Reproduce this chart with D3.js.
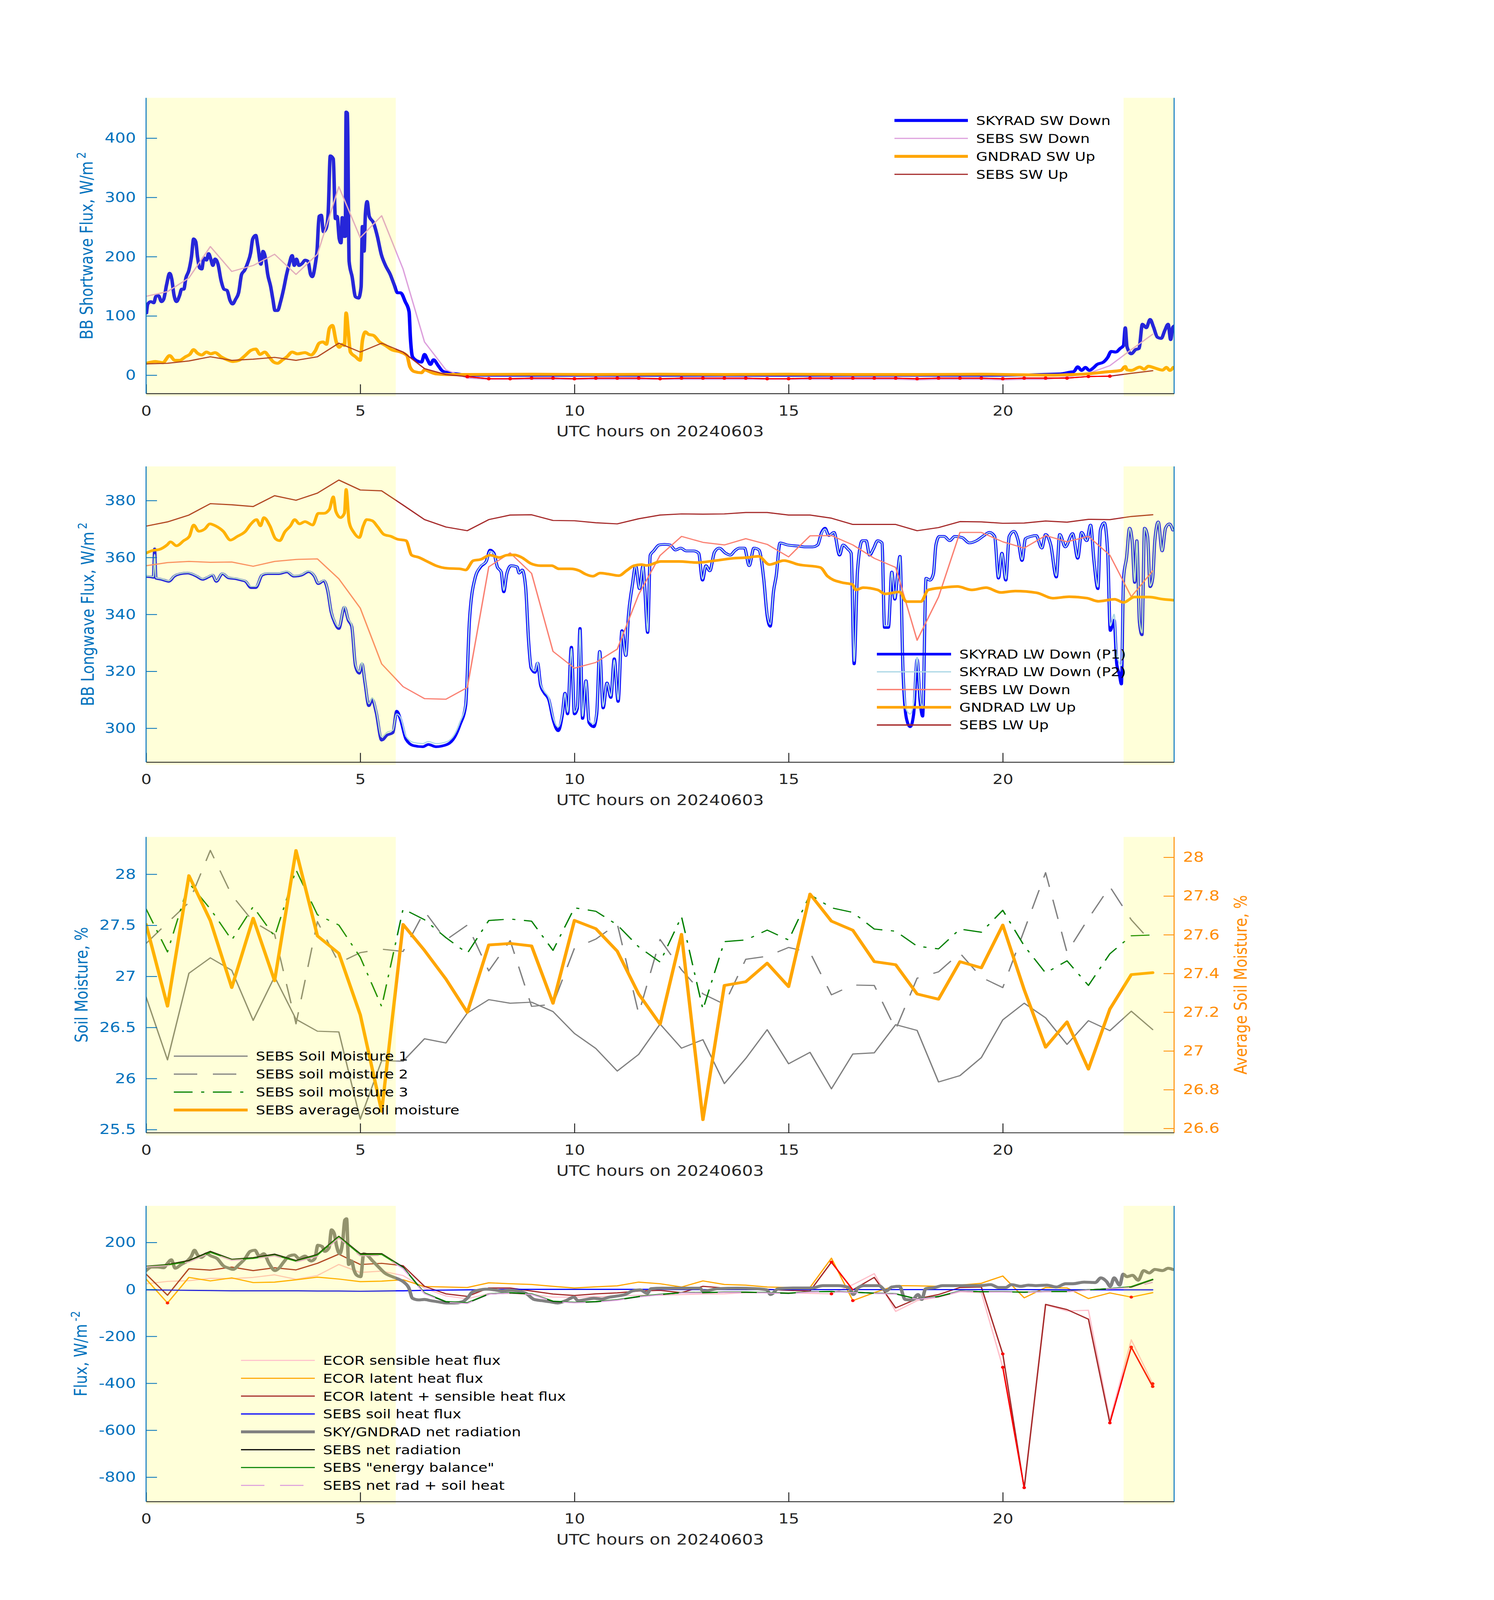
<!DOCTYPE html>
<html>
<head>
<meta charset="utf-8">
<script src="https://cdn.jsdelivr.net/npm/d3@7"></script>
<style>
  html, body { margin: 0; padding: 0; background: #fff; overflow: hidden; }
  #chart svg { display: block; }
  text { font-family: 'DejaVu Sans', sans-serif; }
</style>
</head>
<body>
<div id="chart"></div>
<script>
// ---------- data ----------
const halfHour = [0,0.5,1,1.5,2,2.5,3,3.5,4,4.5,5,5.5,6,6.5,7,7.5,8,8.5,9,9.5,10,10.5,11,11.5,
  12,12.5,13,13.5,14,14.5,15,15.5,16,16.5,17,17.5,18,18.5,19,19.5,20,20.5,21,21.5,22,22.5,23,23.5];
const xTicks = [0, 5, 10, 15, 20];
const shadeStart = [0, 22.82];
const shadeEnd = [5.83, 24];

// panel 1 : shortwave
const skyradSwTime = [0.01,0.04,0.11,0.18,0.23,0.29,0.36,0.41,0.48,0.55,0.60,0.65,0.71,0.78,0.83,0.88,0.93,1.00,1.06,1.11,1.16,1.20,1.25,1.30,1.35,1.41,1.46,1.51,1.56,1.61,1.68,1.75,1.82,1.89,1.96,2.02,2.09,2.16,2.23,2.30,2.37,2.44,2.49,2.56,2.61,2.68,2.73,2.79,2.84,2.91,2.96,3.01,3.07,3.14,3.21,3.28,3.34,3.41,3.46,3.51,3.57,3.65,3.71,3.78,3.84,3.88,3.95,3.99,4.04,4.09,4.14,4.20,4.25,4.30,4.37,4.42,4.46,4.51,4.55,4.58,4.62,4.65,4.67,4.70,4.74,4.81,4.89,4.96,5.02,5.05,5.09,5.12,5.16,5.21,5.31,5.40,5.49,5.59,5.70,5.79,5.87,5.94,6.05,6.14,6.17,6.22,6.33,6.43,6.50,6.57,6.64,6.71,6.82,6.92,7.06,7.27,7.5,10,15,20,21.34,21.57,21.66,21.75,21.84,21.93,22.02,22.11,22.2,22.35,22.45,22.53,22.64,22.74,22.82,22.86,22.90,23.00,23.10,23.18,23.26,23.35,23.44,23.52,23.61,23.70,23.78,23.86,23.92,23.97,24.0];
const skyradSwDown = [105,120,124,122,133,134,124,128,153,172,162,136,124,134,145,145,164,177,200,230,225,200,181,179,198,194,205,196,185,196,187,160,145,143,126,120,128,139,170,177,189,206,230,236,217,187,209,196,170,149,128,109,109,124,145,170,187,202,185,196,185,189,194,192,170,166,187,209,268,270,242,247,272,370,365,264,268,230,223,266,234,234,444,442,192,166,132,130,149,251,209,272,293,268,257,234,204,185,170,153,139,139,124,107,64,31,24,22,35,26,18,26,16,7,4,2,0,0,0,0,2,5,6,14,8,13,8,12,18,22,30,40,39,45,50,80,48,36,43,45,86,80,94,81,64,62,75,86,60,81,83];
const sebsSwDown = [133,141,164,217,175,185,204,170,204,318,232,269,179,56,9,-5,-7,-7,-7,-7,-7,-7,-7,-7,
  -7,-7,-7,-7,-7,-7,-7,-7,-7,-7,-7,-7,-8,-7,-7,-7,-8,-7,-7,-3,3,16,43,69];
const gndradSwTime = [0.01,0.22,0.39,0.55,0.67,0.78,0.92,1.02,1.11,1.20,1.30,1.41,1.51,1.61,1.75,1.89,2.03,2.17,2.31,2.45,2.56,2.66,2.77,2.87,2.98,3.07,3.19,3.29,3.41,3.53,3.71,3.85,3.95,4.04,4.13,4.21,4.28,4.35,4.44,4.51,4.58,4.63,4.67,4.72,4.77,4.89,5.0,5.05,5.12,5.19,5.31,5.45,5.59,5.73,5.94,6.09,6.16,6.26,6.43,6.50,6.64,6.78,7.06,7.5,9,10.5,12,13.5,15,16.5,18,19.5,21.2,21.5,21.96,22.42,22.76,22.86,22.9,23.0,23.2,23.3,23.4,23.55,23.73,23.82,23.9,23.98];
const gndradSwUp = [20,23,21,33,25,25,31,35,43,37,34,39,36,38,31,26,23,25,33,42,44,35,39,31,22,20,26,31,39,36,38,34,41,54,56,52,79,84,56,47,52,50,105,73,39,31,25,58,73,69,67,56,50,43,39,33,14,6,4,9,5,2,1,1,1.5,1,1.5,1,1.5,1,1,1.5,0,0.7,2,5.5,8,14.6,9,8,13.6,10,15,12,8.5,13,8,13];
const sebsSwUp = [19,20,24,31,25,27,30,25,31,54,39,54,39,11,1,-2.5,-6,-6,-5,-5,-6,-5,-5,-5,
  -6,-5,-5,-5,-5,-6,-6,-5,-5,-5,-5,-5,-6,-5,-5,-5,-6,-5,-5,-5,-2.3,-1.7,3,7.5];
const swFlagRange = [7.5, 22.5];

// panel 2 : longwave
const lwTime = [0,0.14,0.17,0.20,0.23,0.36,0.53,0.66,0.79,0.97,1.18,1.32,1.45,1.55,1.64,1.78,1.93,2.10,2.23,2.32,2.45,2.56,2.71,2.84,3.10,3.29,3.45,3.63,3.79,3.93,4.02,4.15,4.24,4.32,4.41,4.50,4.63,4.72,4.80,4.89,4.98,5.04,5.11,5.20,5.28,5.37,5.50,5.63,5.76,5.85,5.94,6.07,6.24,6.46,6.59,6.77,7.03,7.20,7.33,7.46,7.55,7.68,7.81,7.94,8.03,8.12,8.20,8.29,8.35,8.42,8.52,8.66,8.71,8.78,8.86,8.93,8.99,9.08,9.14,9.21,9.30,9.40,9.51,9.62,9.72,9.78,9.84,9.93,10.0,10.07,10.13,10.19,10.27,10.34,10.45,10.52,10.59,10.67,10.76,10.85,10.93,11.02,11.11,11.20,11.26,11.35,11.43,11.52,11.60,11.64,11.71,11.77,11.85,11.98,12.10,12.23,12.36,12.48,12.61,12.78,12.90,12.99,13.07,13.16,13.27,13.38,13.53,13.64,13.74,13.85,13.97,14.08,14.19,14.31,14.42,14.50,14.57,14.65,14.71,14.80,14.97,15.22,15.39,15.56,15.68,15.77,15.85,15.94,16.06,16.19,16.27,16.38,16.46,16.53,16.61,16.72,16.81,16.89,16.98,17.08,17.18,17.24,17.33,17.41,17.48,17.54,17.60,17.67,17.75,17.84,17.92,18.0,18.07,18.13,18.21,18.30,18.38,18.44,18.52,18.63,18.76,18.88,19.05,19.22,19.39,19.56,19.69,19.81,19.90,19.98,20.07,20.15,20.26,20.36,20.45,20.53,20.66,20.78,20.91,21.00,21.12,21.25,21.33,21.46,21.63,21.75,21.84,21.96,22.05,22.13,22.22,22.28,22.37,22.45,22.51,22.60,22.66,22.72,22.77,22.82,22.89,22.96,23.02,23.08,23.13,23.19,23.25,23.31,23.38,23.44,23.50,23.55,23.63,23.72,23.80,23.89,23.97];
const skyradLwP1 = [353.3,353.1,353.0,363.0,352.7,352.3,351.6,353.4,354.2,354.5,353.4,352.3,353.1,353.8,351.6,354.3,352.8,352.5,352.0,351.6,349.4,349.4,353.8,354.3,354.3,354.9,353.4,353.8,355.0,353.4,350.8,351.8,348.3,340.9,336.9,335.0,342.5,338.0,335.8,321.8,319.3,322.6,316.0,307.9,310.1,305.7,295.8,297.6,298.4,306.0,303.1,296.1,293.9,293.5,294.3,293.5,294.3,296.8,301.3,307.9,338.0,352.7,356.7,358.6,362.6,361.5,356.7,354.9,347.9,354.2,357.1,356.7,354.5,355.6,349.7,330.6,321.1,319.6,322.9,315.2,312.3,310.1,302.7,299.1,305.0,312.3,305.0,328.5,305.0,307.1,335.1,303.4,316.7,302.0,300.5,305.0,327.0,307.1,315.9,310.8,324.4,309.4,334.3,325.5,339.4,350.0,357.0,349.0,357.0,349.7,333.6,360.8,362.3,364.4,364.6,364.4,362.6,363.3,362.3,362.3,361.5,352.0,357.1,355.3,361.9,363.3,361.5,360.8,362.3,363.3,363.3,357.1,363.3,362.6,352.3,339.5,335.8,348.3,353.4,365.1,364.4,364.0,363.7,363.7,364.4,368.8,370.3,367.7,368.8,360.8,364.4,363.0,361.5,322.6,355.6,365.9,365.9,360.8,363.0,365.9,365.1,335.4,335.4,354.9,345.3,353.4,360.4,320.4,303.5,300.5,305.0,324.1,309.4,304.2,352.7,352.0,354.2,364.4,367.4,367.4,365.9,367.4,367.0,365.1,365.9,367.7,368.8,367.4,352.7,361.5,352.0,367.4,369.2,365.9,358.9,366.6,367.4,367.7,363.3,368.1,364.4,353.1,368.1,363.7,368.4,359.7,368.8,365.9,371.4,358.6,349.0,369.6,372.2,361.5,334.3,338.0,322.6,319.0,315.5,352.7,360.0,370.3,365.9,351.2,365.9,337.3,332.8,370.3,367.4,349.7,352.7,365.9,372.5,362.3,370.3,371.8,369.6];
const skyradLwP2 = [353.5,353.3,353.2,361.0,352.9,352.5,351.8,353.6,354.4,354.7,353.6,352.5,353.3,354.0,351.8,354.5,353.0,352.7,352.2,351.8,349.8,349.8,354.0,354.5,354.5,355.1,353.6,354.0,355.2,353.6,351.0,352.0,348.6,341.3,337.4,335.6,342.8,338.4,336.3,322.4,319.9,323.1,316.6,308.6,310.7,306.4,296.9,298.6,299.3,305.0,303.8,297.1,295.0,294.6,295.3,294.6,295.3,297.8,302.2,308.6,338.0,352.7,356.9,358.6,362.2,361.3,356.7,354.9,348.4,354.2,357.1,356.7,354.5,355.6,349.7,330.8,321.5,320.1,323.2,315.7,312.9,310.7,303.5,300.4,305.6,312.3,305.6,328.0,305.6,307.6,334.6,304.2,316.7,302.8,301.5,305.6,327.0,307.6,315.9,311.3,324.0,310.0,334.0,325.5,339.4,350.0,357.0,349.0,357.0,349.7,334.0,360.8,362.3,364.4,364.6,364.4,362.6,363.3,362.3,362.3,361.5,352.4,357.1,355.3,361.9,363.3,361.5,360.8,362.3,363.3,363.3,357.1,363.3,362.6,352.5,340.0,336.5,348.3,353.4,365.1,364.4,364.0,363.7,363.7,364.4,368.5,370.0,367.7,368.8,361.0,364.4,363.0,361.5,323.5,355.6,365.9,365.9,361.0,363.0,365.9,365.1,336.0,336.0,354.9,345.6,353.4,360.4,321.5,306.5,305.0,309.0,325.0,311.0,307.0,352.7,352.0,354.2,364.4,367.4,367.4,365.9,367.4,367.0,365.1,365.9,367.7,368.8,367.4,353.0,361.5,352.4,367.4,369.2,365.9,359.2,366.6,367.4,367.7,363.3,368.1,364.4,353.5,368.1,363.7,368.4,360.0,368.8,365.9,371.4,358.9,349.6,369.6,372.2,361.5,336.0,340.0,326.0,323.0,322.0,352.7,360.0,370.3,365.9,351.6,365.9,338.0,333.5,370.3,367.4,350.0,352.7,365.9,372.5,362.3,370.3,371.8,369.6];
const sebsLwDown = [357.1,358.2,358.6,358.3,358.4,356.9,358.6,359.3,359.5,352.5,342.2,322.6,314.6,310.4,310.2,314.3,
  356.7,361.6,354.4,327.0,321.1,323.1,327.8,347.0,360.7,367.4,365.3,364.4,366.6,364.6,360.2,367.6,
  367.7,364.4,359.7,356.5,330.9,346.1,368.8,368.8,365.5,363.3,367.7,365.5,367.4,360.8,346.2,355.3];
const gndradLwTime = [0,0.14,0.31,0.49,0.57,0.71,0.88,1.01,1.11,1.23,1.37,1.49,1.62,1.80,1.97,2.13,2.32,2.45,2.58,2.67,2.75,2.89,3.02,3.12,3.24,3.37,3.47,3.58,3.71,3.89,4.02,4.15,4.28,4.37,4.43,4.54,4.63,4.67,4.74,4.85,4.98,5.07,5.15,5.28,5.41,5.55,5.72,5.85,6.07,6.20,6.37,6.55,6.77,7.03,7.33,7.46,7.64,7.81,8.03,8.25,8.42,8.60,8.77,8.99,9.21,9.47,9.64,9.90,10.12,10.25,10.43,10.60,10.78,11.04,11.21,11.39,11.56,11.69,12.02,12.44,12.87,13.29,13.71,14.05,14.30,14.55,14.89,15.23,15.74,15.91,16.24,16.49,16.57,16.74,17.08,17.25,17.59,17.75,18.09,18.26,18.6,18.94,19.28,19.61,19.95,20.29,20.79,21.17,21.55,21.97,22.23,22.61,22.82,23.07,23.41,23.75,23.98];
const gndradLwUp = [361.5,362.4,362.8,364.4,365.5,364.1,365.9,367.4,371.4,369.2,370.0,371.8,371.1,369.2,366.1,367.4,369.2,371.8,373.3,371.1,374.0,371.1,366.6,365.9,369.0,371.1,373.3,371.8,372.6,371.4,375.5,375.5,376.9,381.3,376.2,374.0,375.5,383.9,372.5,368.8,367.0,371.1,373.3,372.9,370.7,368.1,367.4,366.5,365.9,360.8,360.0,358.7,357.1,356.2,356.0,355.6,358.9,359.3,360.8,360.0,360.8,360.9,360.0,357.8,357.1,357.1,356.0,356.0,355.3,354.2,353.4,354.5,354.2,353.6,355.3,357.1,357.5,357.2,358.6,358.6,358.2,358.9,359.7,360.0,360.4,357.5,358.9,357.5,356.5,353.4,351.2,350.5,348.6,349.4,348.6,347.2,347.9,344.5,344.5,348.6,349.4,349.8,348.6,349.4,347.7,348.2,347.6,345.7,346.2,345.7,344.6,345.3,344.2,346.1,346.1,345.3,345.0];
const sebsLwUp = [371.0,372.5,374.9,378.9,378.5,377.9,381.7,380.1,382.6,387.2,383.7,383.4,378.4,373.3,370.7,369.4,
  373.3,374.9,375.0,373.0,372.9,372.2,371.8,373.6,374.9,375.3,375.2,375.3,375.8,375.8,374.9,374.9,
  373.8,371.6,371.6,371.6,369.4,370.5,372.6,372.5,372.0,372.1,372.8,372.4,373.4,373.3,374.4,375.0];

// panel 3 : soil moisture
const soilMoisture1 = [26.798,26.182,27.030,27.181,27.059,26.569,26.996,26.580,26.463,26.456,25.602,26.175,26.169,26.389,26.348,26.641,
  26.772,26.737,26.747,26.655,26.441,26.294,26.073,26.236,26.533,26.297,26.380,25.950,26.196,26.478,26.144,26.256,
  25.899,26.240,26.251,26.527,26.471,25.966,26.028,26.205,26.574,26.737,26.594,26.334,26.566,26.468,26.659,26.479];
const soilMoisture2 = [27.322,27.525,27.723,28.233,27.795,27.536,27.412,26.535,27.536,27.131,27.232,27.266,27.244,27.637,27.356,27.502,
  27.053,27.350,26.706,26.727,27.275,27.365,27.514,26.635,27.361,27.064,26.829,26.727,27.167,27.197,27.283,27.234,
  26.819,26.915,26.911,26.481,26.982,27.044,27.228,26.990,26.890,27.450,28.015,27.234,27.567,27.878,27.554,27.322];
const soilMoisture3 = [27.660,27.239,27.914,27.660,27.356,27.682,27.390,28.042,27.603,27.502,27.187,26.704,27.660,27.554,27.379,27.226,
  27.547,27.561,27.540,27.254,27.671,27.637,27.504,27.289,27.140,27.585,26.676,27.340,27.356,27.453,27.356,27.800,
  27.671,27.626,27.463,27.442,27.295,27.269,27.463,27.432,27.647,27.299,27.033,27.152,26.911,27.221,27.397,27.405];
const soilMoistureAvg = [27.653,27.231,27.905,27.673,27.327,27.685,27.362,28.035,27.594,27.504,27.187,26.688,27.653,27.519,27.371,27.199,
  27.547,27.555,27.542,27.246,27.674,27.631,27.515,27.294,27.138,27.602,26.645,27.338,27.357,27.453,27.332,27.810,
  27.670,27.623,27.461,27.445,27.294,27.267,27.461,27.429,27.650,27.316,27.019,27.150,26.906,27.216,27.394,27.404];
const soilLeftTicks = [25.5, 26, 26.5, 27, 27.5, 28];
const soilRightTicks = [26.6, 26.8, 27, 27.2, 27.4, 27.6, 27.8, 28];

// panel 4 : surface energy fluxes
const ecorSensible = [23.6,34,37,47,46,51,62,43,59,106,72,78,59,5,-28,-40,
  -18,-17,-22,-33,-33,-31,-28,-25,-25,-22,-20,-19,-14,-14,-14,-17,
  -19,20,67,-94,-48,-33,-10,-14,-332,-845,-66,-92,-89,-556,-215,-402];
const ecorLatent = [44,-58,51,36,49,29,31,41,52,44,33,35,41,12,10,8,
  28,24,21,13,6,11,15,31,24,10,36,21,18,10,8,8,
  133,-48,-14,16,15,13,18,26,57,-36,8,6,-39,-15,-33,-14];
const ecorSum = [65,-25,88,82,95,80,92,83,111,150,106,111,101,13,-19,-30,
  6,6,-7,-20,-26,-19,-15,-7,-4,-14,13,6,0,0,-4,-7,
  116,-2,51,-79,-40,-22,8,10,-275,-848,-64,-86,-127,-569,-246,-414];
const sebsSoilHeat = [-2,-3,-4,-5,-6,-6,-6,-6,-7,-7,-8,-7,-6,-4,-3,-2,
  -1,0,0,0,0,0,0,0,0,-1,-1,-1,-1,-1,-1,-1,
  -1,-1,-1,-1,-1,-1,-1,-1,-1,-1,-1.5,-2,-2,-2,-2,-2];
const netRadTime = [0.0,0.13,0.27,0.41,0.5,0.59,0.68,0.82,0.96,1.06,1.13,1.2,1.29,1.41,1.52,1.66,1.8,1.94,2.03,2.17,2.31,2.43,2.54,2.64,2.75,2.87,3.01,3.1,3.21,3.34,3.46,3.57,3.71,3.85,3.94,4.01,4.11,4.17,4.27,4.33,4.39,4.45,4.52,4.59,4.64,4.68,4.73,4.8,4.85,4.92,5.01,5.08,5.15,5.29,5.43,5.57,5.75,5.89,6.03,6.13,6.22,6.36,6.5,6.64,6.82,7.01,7.2,7.38,7.52,7.61,7.75,7.94,8.13,8.31,8.5,8.68,8.87,9.06,9.24,9.43,9.61,9.8,9.99,10.08,10.27,10.45,10.64,10.82,11.01,11.18,11.35,11.53,11.7,11.79,12.05,12.48,12.92,13.01,13.36,13.8,14.23,14.49,14.58,14.76,15.1,15.54,15.8,16.15,16.41,16.51,16.63,16.76,17.11,17.28,17.41,17.59,17.72,17.89,18.02,18.11,18.2,18.42,18.59,19.03,19.46,19.72,19.9,20.07,20.2,20.42,20.6,20.77,21.03,21.25,21.47,21.64,21.9,22.16,22.29,22.42,22.51,22.6,22.73,22.81,22.9,23.03,23.16,23.29,23.42,23.55,23.73,23.86,23.97];
const skyGndNetRad = [80,95,95,92,111,126,90,106,121,142,167,147,136,152,142,131,101,90,85,106,131,162,167,142,152,111,80,90,116,142,147,131,142,121,131,188,183,162,177,254,239,183,152,203,295,301,106,121,85,60,54,152,147,121,95,70,54,44,29,8,-38,-45,-43,-48,-53,-58,-58,-53,-33,-12,-4,1,-2,-7,-4,-7,-17,-43,-48,-53,-58,-48,-33,-48,-43,-38,-41,-33,-28,-22,-7,-2,-17,3,5,5,5,-7,3,5,3,-2,-22,3,6,6,16,16,8,-22,8,16,16,-7,10,13,-43,-45,-22,-43,3,8,16,16,16,20,8,8,20,13,18,16,18,10,24,24,31,29,49,34,13,49,18,65,54,60,39,80,70,85,80,90,85];
const sebsNetRad = [98.5,106,123,162,128,135,150,123,149,226,152,152,95,-17,-53,-58,
  -20,-15,-20,-51,-56,-53,-45,-31,-22,-14,-14,-12,-12,-14,-17,-10,
  -9,-12,-16,-19,-41,-31,-7,-10,-10,-12,-9,-9,-2,3,10,41];
const sebsEnergyBalance = [97,104,118,158,126,132,146,120,146,224,148,149,93,-15,-52,-57,
  -19,-14,-19,-50,-55,-52,-44,-30,-21,-14,-13,-12,-12,-13,-16,-10,
  -9,-12,-16,-19,-41,-30,-7,-10,-10,-12,-9,-9,-2,3,12,43];
const sebsNetPlusSoil = [96,101,117,155,124,130,143,117,141,219,143,145,89,-18,-55,-60,
  -20,-16,-21,-52,-57,-54,-46,-32,-23,-15,-15,-13,-13,-15,-18,-11,
  -10,-13,-17,-20,-42,-32,-8,-11,-11,-13,-10,-10,-3,2,8,30];
const ecorFlagTime = [16,16.5,null,20,20.5,null,22.5,23,23.5];
const ecorFlagValue = [116,-2,null,-332,-845,null,-569,-246,-414];
const ecorFlagDotTime = [0.5,16,16,16.5,20,20,20.5,22.5,23,23,23.5,23.5];
const ecorFlagDotValue = [-58,116,-19,-48,-275,-332,-845,-569,-246,-33,-402,-414];

// ---------- layout ----------
// the drawing is laid out in the reference's 3825 x 4875 frame and stretched to the window
const width = 3825, height = 4875;
const plotLeft = 374, plotRight = 3006, plotHeight = 901;
const panelTop = [298, 1421, 2550, 3674];
const fontFamily = "'DejaVu Sans', sans-serif";
const axisBlue = '#0072BD', axisGray = '#262626', axisOrange = '#FF8C00';

const svg = d3.select('#chart')
  .append('svg')
  .attr('width', window.innerWidth || width)
  .attr('height', window.innerHeight || height)
  .attr('viewBox', '0 0 ' + width + ' ' + height)
  .attr('preserveAspectRatio', 'none')
  .style('background-color', '#fff');

const x = d3.scaleLinear().domain([0, 24]).range([plotLeft, plotRight]);

function zip(ts, vs) {
  return ts.map((t, i) => [t, vs[i]]);
}

function drawSeries(g, y, pts, color, lw, dash, curve) {
  const line = d3.line()
    .defined(d => d[0] != null && d[1] != null)
    .x(d => x(d[0]))
    .y(d => y(d[1]))
    .curve(curve || d3.curveLinear);
  g.append('path')
    .datum(pts)
    .attr('d', line)
    .attr('fill', 'none')
    .attr('stroke', color)
    .attr('stroke-width', lw)
    .attr('stroke-linejoin', 'round')
    .attr('stroke-linecap', dash ? 'butt' : 'round')
    .attr('stroke-dasharray', dash || null);
}

function drawDots(g, y, pts, color, r) {
  g.selectAll(null)
    .data(pts)
    .enter()
    .append('circle')
    .attr('cx', d => x(d[0]))
    .attr('cy', d => y(d[1]))
    .attr('r', r)
    .attr('fill', color);
}

function makePanel(i, yDomain) {
  const top = panelTop[i], bottom = top + plotHeight;
  const y = d3.scaleLinear().domain(yDomain).range([bottom, top]);
  const g = svg.append('g');
  const clip = 'clip' + i;
  svg.append('clipPath').attr('id', clip)
    .append('rect').attr('x', plotLeft).attr('y', top)
    .attr('width', plotRight - plotLeft).attr('height', plotHeight);
  const lines = g.append('g').attr('clip-path', 'url(#' + clip + ')');
  return { g, lines, y, top, bottom };
}

function shade(p) {
  p.g.selectAll(null)
    .data(shadeStart.map((s, k) => [s, shadeEnd[k]]))
    .enter()
    .append('rect')
    .attr('x', d => x(d[0]))
    .attr('width', d => x(d[1]) - x(d[0]))
    .attr('y', p.top)
    .attr('height', plotHeight + 8)
    .attr('fill', '#FFFF00')
    .attr('fill-opacity', 0.15);
}

function styleAxis(ag, color) {
  ag.attr('font-size', 42).attr('font-family', fontFamily);
  ag.selectAll('text').attr('fill', color);
  ag.selectAll('line').attr('stroke', color).attr('stroke-width', 2.5);
  ag.select('.domain').attr('stroke', color).attr('stroke-width', 2.5);
}

function axes(p, yTicks, opts) {
  // x axis
  const xa = p.g.append('g')
    .attr('transform', 'translate(0,' + p.bottom + ')')
    .call(d3.axisBottom(x).tickValues(xTicks).tickSize(-28).tickSizeOuter(0).tickPadding(37).tickFormat(d3.format('d')));
  styleAxis(xa, axisGray);
  // y axis
  const ya = p.g.append('g')
    .attr('transform', 'translate(' + plotLeft + ',0)')
    .call(d3.axisLeft(p.y).tickValues(yTicks).tickSize(-28).tickSizeOuter(0).tickPadding(26)
      .tickFormat(d => String(d)));
  styleAxis(ya, axisBlue);
  ya.select('.domain').attr('d', 'M0,' + p.top + 'V' + p.bottom);
  if (!opts || !opts.noRightLine) {
    p.g.append('line')
      .attr('x1', plotRight).attr('x2', plotRight)
      .attr('y1', p.top).attr('y2', p.bottom)
      .attr('stroke', axisBlue).attr('stroke-width', 2.5);
  }
  // x label
  p.g.append('text')
    .attr('x', (plotLeft + plotRight) / 2)
    .attr('y', p.bottom + 131)
    .attr('text-anchor', 'middle')
    .attr('font-size', 44)
    .attr('fill', axisGray)
    .text('UTC hours on 20240603');
}

function yLabel(p, bx, main, sup, color) {
  const t = p.g.append('text')
    .attr('transform', 'translate(' + bx + ',' + (p.top + p.bottom) / 2 + ') rotate(-90)')
    .attr('text-anchor', 'middle')
    .attr('font-size', 44)
    .attr('fill', color);
  t.append('tspan').text(main);
  if (sup) {
    t.append('tspan').attr('dx', 8).attr('dy', -18).attr('font-size', 32).text(sup);
  }
}

function legend(p, x1, x2, y0, dy, items) {
  const lg = p.g.append('g');
  items.forEach((it, k) => {
    const yy = y0 + k * dy;
    lg.append('line')
      .attr('x1', x1).attr('x2', x2).attr('y1', yy).attr('y2', yy)
      .attr('stroke', it.color)
      .attr('stroke-width', it.lw)
      .attr('stroke-dasharray', it.dash || null);
    lg.append('text')
      .attr('x', x2 + 21)
      .attr('y', yy)
      .attr('dy', '0.36em')
      .attr('font-size', 38)
      .attr('fill', '#000')
      .text(it.label);
  });
}

// ---------- panel 1 ----------
const p1 = makePanel(0, [-31, 468]);
drawSeries(p1.lines, p1.y, zip(skyradSwTime, skyradSwDown), '#0000FF', 9, null, d3.curveMonotoneX);
drawSeries(p1.lines, p1.y, zip(halfHour, sebsSwDown), '#DDA0DD', 3.5);
drawSeries(p1.lines, p1.y, zip(gndradSwTime, gndradSwUp), '#FFA500', 9, null, d3.curveMonotoneX);
drawSeries(p1.lines, p1.y, zip(halfHour, sebsSwUp), '#A52A2A', 3.5);
const swFlag = zip(halfHour, sebsSwUp).filter(d => d[0] >= swFlagRange[0] && d[0] <= swFlagRange[1]);
drawSeries(p1.lines, p1.y, swFlag, '#FF0000', 3.5);
drawDots(p1.lines, p1.y, swFlag, '#FF0000', 5);
shade(p1);
axes(p1, [0, 100, 200, 300, 400]);
yLabel(p1, 237, 'BB Shortwave Flux, W/m', '2', axisBlue);
legend(p1, 2290, 2478, 367, 54.7, [
  { label: 'SKYRAD SW Down', color: '#0000FF', lw: 9 },
  { label: 'SEBS SW Down', color: '#DDA0DD', lw: 3.5 },
  { label: 'GNDRAD SW Up', color: '#FFA500', lw: 9 },
  { label: 'SEBS SW Up', color: '#A52A2A', lw: 3.5 }
]);

// ---------- panel 2 ----------
const p2 = makePanel(1, [288.1, 392]);
drawSeries(p2.lines, p2.y, zip(lwTime, skyradLwP1), '#0000FF', 8, null, d3.curveMonotoneX);
drawSeries(p2.lines, p2.y, zip(lwTime, skyradLwP2), '#ADD8E6', 3.5, null, d3.curveMonotoneX);
drawSeries(p2.lines, p2.y, zip(halfHour, sebsLwDown), '#FA8072', 3.5);
drawSeries(p2.lines, p2.y, zip(gndradLwTime, gndradLwUp), '#FFA500', 8, null, d3.curveMonotoneX);
drawSeries(p2.lines, p2.y, zip(halfHour, sebsLwUp), '#A52A2A', 3.5);
shade(p2);
axes(p2, [300, 320, 340, 360, 380]);
yLabel(p2, 240, 'BB Longwave Flux, W/m', '2', axisBlue);
legend(p2, 2245, 2435, 1993, 54, [
  { label: 'SKYRAD LW Down (P1)', color: '#0000FF', lw: 8 },
  { label: 'SKYRAD LW Down (P2)', color: '#ADD8E6', lw: 4 },
  { label: 'SEBS LW Down', color: '#FA8072', lw: 4 },
  { label: 'GNDRAD LW Up', color: '#FFA500', lw: 8 },
  { label: 'SEBS LW Up', color: '#A52A2A', lw: 4 }
]);

// ---------- panel 3 ----------
const p3 = makePanel(2, [25.47, 28.365]);
const yRight = d3.scaleLinear().domain([26.578, 28.105]).range([p3.bottom, p3.top]);
drawSeries(p3.lines, p3.y, zip(halfHour, soilMoisture1), '#808080', 3.5);
drawSeries(p3.lines, p3.y, zip(halfHour, soilMoisture2), '#808080', 3.5, '60,40');
drawSeries(p3.lines, p3.y, zip(halfHour, soilMoisture3), '#008000', 3.5, '48,22,8,22');
drawSeries(p3.lines, yRight, zip(halfHour, soilMoistureAvg), '#FFA500', 8.5);
shade(p3);
axes(p3, soilLeftTicks, { noRightLine: true });
const ra = p3.g.append('g')
  .attr('transform', 'translate(' + plotRight + ',0)')
  .call(d3.axisRight(yRight).tickValues(soilRightTicks).tickSize(-27).tickSizeOuter(0).tickPadding(23)
    .tickFormat(d => String(+d.toFixed(1))));
styleAxis(ra, axisOrange);
ra.select('.domain').attr('d', 'M0,' + p3.top + 'V' + p3.bottom);
yLabel(p3, 224, 'Soil Moisture, %', null, axisBlue);
yLabel(p3, 3192, 'Average Soil Moisture, %', null, axisOrange);
legend(p3, 445, 634, 3218, 54.7, [
  { label: 'SEBS Soil Moisture 1', color: '#808080', lw: 3.5 },
  { label: 'SEBS soil moisture 2', color: '#808080', lw: 3.5, dash: '60,40' },
  { label: 'SEBS soil moisture 3', color: '#008000', lw: 3.5, dash: '48,22,8,22' },
  { label: 'SEBS average soil moisture', color: '#FFA500', lw: 8.5 }
]);

// ---------- panel 4 ----------
const p4 = makePanel(3, [-904, 356]);
drawSeries(p4.lines, p4.y, zip(halfHour, ecorSensible), '#FFC0CB', 3.5);
drawSeries(p4.lines, p4.y, zip(halfHour, ecorLatent), '#FFA500', 3.5);
drawSeries(p4.lines, p4.y, zip(halfHour, ecorSum), '#A52A2A', 3.5);
drawSeries(p4.lines, p4.y, zip(halfHour, sebsSoilHeat), '#0000FF', 3.5);
drawSeries(p4.lines, p4.y, zip(netRadTime, skyGndNetRad), '#808080', 9, null, d3.curveMonotoneX);
drawSeries(p4.lines, p4.y, zip(halfHour, sebsNetRad), '#000000', 3.5);
drawSeries(p4.lines, p4.y, zip(halfHour, sebsEnergyBalance), '#008000', 3.5);
drawSeries(p4.lines, p4.y, zip(halfHour, sebsNetPlusSoil), '#DDA0DD', 3.5, '60,40');
drawSeries(p4.lines, p4.y, zip(ecorFlagTime, ecorFlagValue), '#FF0000', 3.5);
drawDots(p4.lines, p4.y, zip(ecorFlagDotTime, ecorFlagDotValue), '#FF0000', 4.5);
shade(p4);
axes(p4, [-800, -600, -400, -200, 0, 200]);
yLabel(p4, 222, 'Flux, W/m', '-2', axisBlue);
legend(p4, 617, 806, 4145, 54.4, [
  { label: 'ECOR sensible heat flux', color: '#FFC0CB', lw: 3.5 },
  { label: 'ECOR latent heat flux', color: '#FFA500', lw: 3.5 },
  { label: 'ECOR latent + sensible heat flux', color: '#A52A2A', lw: 3.5 },
  { label: 'SEBS soil heat flux', color: '#0000FF', lw: 3.5 },
  { label: 'SKY/GNDRAD net radiation', color: '#808080', lw: 9 },
  { label: 'SEBS net radiation', color: '#000000', lw: 3.5 },
  { label: 'SEBS "energy balance"', color: '#008000', lw: 3.5 },
  { label: 'SEBS net rad + soil heat', color: '#DDA0DD', lw: 3.5, dash: '60,40' }
]);
</script>
</body>
</html>
